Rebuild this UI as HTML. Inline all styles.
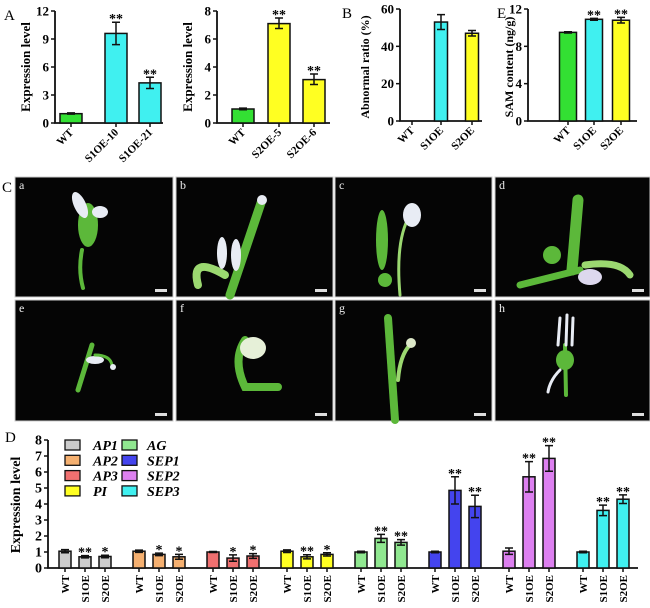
<!DOCTYPE html>
<html><head><meta charset="utf-8"><style>
body{margin:0;background:#fff}
svg{display:block}
svg text{font-family:"Liberation Serif","DejaVu Serif",serif;font-weight:bold}
</style></head><body>
<svg id="s" width="650" height="608" viewBox="0 0 650 608" xmlns="http://www.w3.org/2000/svg" font-family="Liberation Serif, serif"></svg>
<script>
const s=document.getElementById('s');let h='';
function bar(cx,w,y0,yt,col,e1,e2){h+=`<rect x="${cx-w/2}" y="${yt}" width="${w}" height="${y0-yt}" fill="${col}" stroke="#111" stroke-width="1.5"/>`;
if(e1!=null){h+=`<path d="M${cx} ${e1}V${e2}M${cx-4} ${e1}H${cx+4}M${cx-4} ${e2}H${cx+4}" stroke="#111" stroke-width="1.5" fill="none"/>`;}}
function star(cx,y,t,fs){h+=`<text x="${cx}" y="${y+4}" font-size="${fs||14}" text-anchor="middle">${t}</text>`;}
function axis(x,ytop,y0,xend,ticks,vmax,fs){h+=`<path d="M${x} ${ytop}V${y0}H${xend}" stroke="#111" stroke-width="1.8" fill="none"/>`;
ticks.forEach(t=>{const y=y0-(y0-ytop)*t/vmax;h+=`<path d="M${x-4} ${y}H${x}" stroke="#111" stroke-width="1.5"/><text x="${x-6}" y="${y+4.5}" font-size="${fs||13}" text-anchor="end">${t}</text>`;});}
function xl(cx,y,t,fs){h+=`<path d="M${cx} ${y}v4" stroke="#111" stroke-width="1.5"/><text transform="translate(${cx+3},${y+10}) rotate(-45)" font-size="${fs||11}" text-anchor="end">${t}</text>`;}
function yl(x,y,t,fs){h+=`<text transform="translate(${x},${y}) rotate(-90)" font-size="${fs||13}" text-anchor="middle">${t}</text>`;}
function lab(x,y,t){h+=`<text x="${x}" y="${y}" font-size="15" style="font-weight:normal">${t}</text>`;}
lab(4,20,'A');
let f=v=>123-9.33*v;
axis(55,11,123,163,[0,3,6,9,12],12);
bar(71,22,123,f(1),'#33e033',f(1.08),f(.95));
bar(116,22,123,f(9.6),'#40f0f0',f(10.8),f(8.4));star(116,f(10.8)-3,'**');
bar(150,22,123,f(4.3),'#40f0f0',f(4.9),f(3.7));star(150,f(4.9)-3,'**');
xl(71,123,'WT');xl(116,123,'S1OE-10');xl(150,123,'S1OE-21');
yl(30,67,'Expression level');
f=v=>123-14*v;
axis(217,11,123,330,[0,2,4,6,8],8);
bar(243,22,123,f(1),'#33e033',f(1.06),f(.95));
bar(279,22,123,f(7.1),'#ffff22',f(7.5),f(6.75));star(279,f(7.5)-3,'**');
bar(314,22,123,f(3.1),'#ffff22',f(3.5),f(2.75));star(314,f(3.5)-3,'**');
xl(243,123,'WT');xl(279,123,'S2OE-5');xl(314,123,'S2OE-6');
yl(192,67,'Expression level');
lab(342,18,'B');
f=v=>121-1.867*v;
axis(400,9,121,482,[0,20,40,60],60);
bar(441,13,121,f(53),'#40f0f0',f(57),f(49));
bar(472,13,121,f(47),'#ffff22',f(48.5),f(45.5));
xl(412,121,'WT');xl(441,121,'S1OE');xl(472,121,'S2OE');
yl(369,67,'Abnormal ratio (%)',12);
lab(497,18,'E');
f=v=>121-9.33*v;
axis(528,9,121,637,[0,4,8,12],12);
bar(568,17,121,f(9.5),'#33e033',f(9.57),f(9.43));
bar(594,17,121,f(10.9),'#40f0f0',f(11),f(10.8));star(594,f(11)-3,'**');
bar(621,17,121,f(10.8),'#ffff22',f(11.1),f(10.5));star(621,f(11.1)-3,'**');
xl(568,121,'WT');xl(594,121,'S1OE');xl(621,121,'S2OE');
yl(513,67,'SAM content (ng/g)',12);
lab(2,192,'C');
const px=[[15,173],[176,333],[335,492],[495,650]],py=[[177,297],[300,421]];
const L='abcdefgh';let k=0;
py.forEach(([y1,y2])=>px.forEach(([x1,x2])=>{h+=`<rect x="${x1}" y="${y1}" width="${x2-x1}" height="${y2-y1}" fill="#050505" stroke="#ccc" stroke-width="1"/>`;
h+=`<text x="${x1+4}" y="${y1+12}" font-size="12" fill="#eee" style="font-weight:normal">${L[k]}</text>`;
h+=`<rect x="${x2-18}" y="${y2-8}" width="12" height="3" fill="#ddd"/>`;k++;}));
const g='#5cb83a',lg='#9bd870',wh='#e8ecf4';
h+=`<g fill="none" stroke-linecap="round">
<path d="M82 250 Q78 270 83 288" stroke="${g}" stroke-width="4"/><ellipse cx="88" cy="225" rx="10" ry="22" fill="${g}"/><ellipse cx="80" cy="205" rx="6" ry="14" fill="${wh}" transform="rotate(-25 80 205)"/><ellipse cx="100" cy="212" rx="8" ry="6" fill="${wh}"/>
<path d="M230 295 L262 200" stroke="${g}" stroke-width="9"/><circle cx="262" cy="200" r="5" fill="${wh}"/><path d="M225 275 Q190 255 198 285" stroke="${lg}" stroke-width="8"/><ellipse cx="222" cy="253" rx="5" ry="16" fill="${wh}"/><ellipse cx="236" cy="255" rx="5" ry="16" fill="${wh}"/>
<path d="M400 295 Q395 240 410 215" stroke="${lg}" stroke-width="3"/><ellipse cx="382" cy="240" rx="6" ry="30" fill="${g}"/><ellipse cx="412" cy="215" rx="9" ry="12" fill="${wh}"/><circle cx="385" cy="280" r="7" fill="${g}"/>
<path d="M578 200 L572 270" stroke="${g}" stroke-width="11"/><path d="M520 285 L580 270" stroke="${g}" stroke-width="7"/><path d="M585 265 Q620 260 630 275" stroke="${lg}" stroke-width="7"/><ellipse cx="590" cy="277" rx="12" ry="8" fill="#ddd8ee"/><circle cx="552" cy="255" r="9" fill="${g}"/>
<path d="M78 390 L92 345" stroke="${g}" stroke-width="5"/><ellipse cx="95" cy="360" rx="9" ry="4" fill="${wh}"/><path d="M95 355 Q110 355 112 365" stroke="${g}" stroke-width="3"/><circle cx="113" cy="367" r="3" fill="${wh}"/>
<path d="M245 340 Q232 360 245 387 L278 387" stroke="${g}" stroke-width="8"/><ellipse cx="253" cy="348" rx="13" ry="11" fill="#e6f0d8"/>
<path d="M388 318 L395 420" stroke="${g}" stroke-width="8"/><path d="M398 380 Q400 355 410 345" stroke="${lg}" stroke-width="4"/><circle cx="411" cy="343" r="5" fill="#dde8c8"/>
<path d="M565 345 L566 395" stroke="${g}" stroke-width="4"/><ellipse cx="565" cy="360" rx="9" ry="10" fill="${g}"/><path d="M558 345 L560 318 M566 345 L567 315 M572 345 L573 318" stroke="${wh}" stroke-width="3"/><path d="M560 370 Q550 380 548 392" stroke="${wh}" stroke-width="3"/>
</g>`;
lab(5,442,'D');
f=v=>568-16*v;
axis(48,440,568,638,[0,1,2,3,4,5,6,7,8],8,14);
yl(20,505,'Expression level',14);
const cols=['#cccccc','#f5b070','#f07070','#ffff22','#90e890','#4444ee','#dd80f0','#40f0f0'];
const vals=[[1.05,.1,.7,.07,'**',.72,.08,'*'],[1.05,.07,.85,.08,'*',.7,.15,'*'],[1,.03,.62,.2,'*',.75,.15,'*'],[1.05,.08,.7,.13,'**',.85,.1,'*'],[1,.05,1.85,.25,'**',1.6,.17,'**'],[1,.05,4.85,.85,'**',3.85,.7,'**'],[1.05,.2,5.7,.95,'**',6.85,.8,'**'],[1,.05,3.6,.33,'**',4.3,.27,'**']];
vals.forEach((d,i)=>{const x=65+74*i;
[[x,d[0],d[1],''],[x+20,d[2],d[3],d[4]],[x+40,d[5],d[6],d[7]]].forEach(([c,v,e,st])=>{bar(c,12,568,f(v),cols[i],f(v+e),f(v-e));if(st)star(c,f(v+e)-3,st,14);
h+=`<path d="M${c} 568v4" stroke="#111" stroke-width="1.5"/>`;});
[['WT',x],['S1OE',x+20],['S2OE',x+40]].forEach(([t,c])=>{h+=`<text transform="translate(${c+4},575) rotate(-90)" font-size="11" text-anchor="end">${t}</text>`;});});
const names=['AP1','AP2','AP3','PI','AG','SEP1','SEP2','SEP3'];
names.forEach((n,i)=>{const col=i<4?0:1,r=i%4;const bx=col?122:65,y=445+15.3*r;
h+=`<rect x="${bx}" y="${y-5}" width="15" height="10" fill="${cols[i]}" stroke="#111" stroke-width="1.3"/><text x="${bx+(col?25:28)}" y="${y+5}" font-size="14" font-style="italic">${n}</text>`;});
s.innerHTML=h;
</script>
</body></html>
